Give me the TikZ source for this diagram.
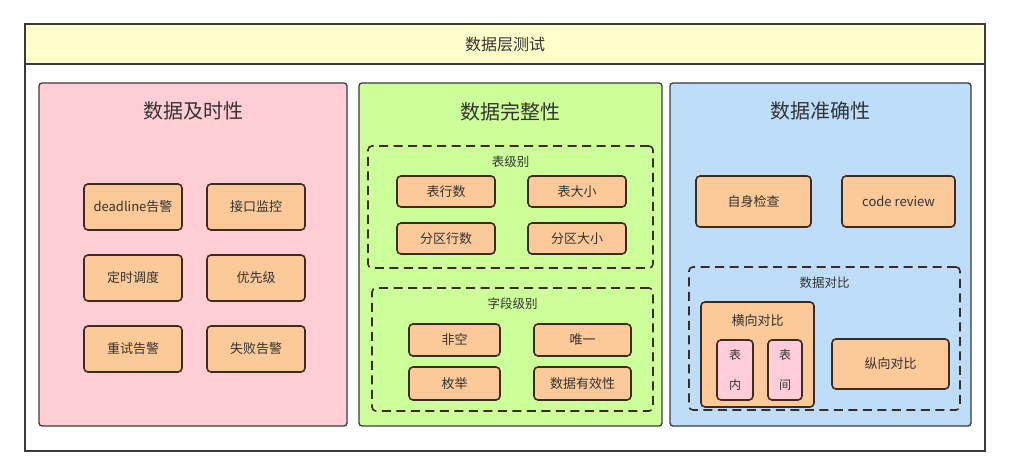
\documentclass[tikz,border=0pt]{standalone}
\usepackage{fontspec}
\setmainfont{Noto Sans CJK SC}
\usepackage{xcolor}
\usetikzlibrary{positioning}

\definecolor{bandyellow}{HTML}{FFFFCC}
\definecolor{panelpink}{HTML}{FFCDD4}
\definecolor{panelgreen}{HTML}{CCFF99}
\definecolor{panelblue}{HTML}{BEDDF9}
\definecolor{itemfill}{HTML}{FCCA98}
\definecolor{cellpink}{HTML}{FFCCD9}
\definecolor{itemline}{HTML}{3B2A26}
\definecolor{framegray}{HTML}{3A3A3A}
\definecolor{textgray}{HTML}{333333}

\begin{document}
\begin{tikzpicture}[x=1pt,y=-1pt,
            frame/.style={draw=framegray,line width=1.4pt,inner sep=0pt},
            panel/.style={draw=framegray,line width=1.3pt,rounded corners=3pt,inner sep=0pt},
            paneltitle/.style={label={[anchor=center,yshift=-29pt,font=\fontsize{20}{24}\selectfont,text=textgray]north:#1}},
            item/.style={draw=itemline,fill=itemfill,line width=1.6pt,rounded corners=4pt,
                    inner sep=0pt,outer sep=0pt,font=\fontsize{13}{15}\selectfont,text=textgray},
            group/.style={draw=itemline,dash pattern=on 9pt off 5.5pt,line width=1.6pt,rounded corners=4pt,inner sep=0pt},
            grouptitle/.style={label={[anchor=center,yshift=-17pt,font=\fontsize{12.5}{15}\selectfont,text=textgray]north:#1}},
            cell/.style={item,fill=cellpink,font=\fontsize{12}{30}\selectfont,align=center}]

        \useasboundingbox (0,0) rectangle (1010,476);

        \node[frame,minimum width=960pt,minimum height=427pt] (F) at (505,237.5) {};
        \node[frame,fill=bandyellow,minimum width=960pt,minimum height=40pt,
              font=\fontsize{16}{19}\selectfont,text=textgray] (T) at (505,44) {数据层测试};

        \node[panel,fill=panelpink,minimum width=308pt,minimum height=343pt,paneltitle=数据及时性] (P1) at (193,254.5) {};
        \node[panel,fill=panelgreen,minimum width=303pt,minimum height=343pt,paneltitle=数据完整性] (P2) at (510.5,254.5) {};
        \node[panel,fill=panelblue,minimum width=301pt,minimum height=343pt,paneltitle=数据准确性] (P3) at (820.5,254.5) {};

        \node[item,minimum width=98pt,minimum height=46pt] (A1) at (133,207) {deadline告警};
        \node[item,minimum width=98pt,minimum height=46pt,right=25pt of A1] (A2) {接口监控};
        \node[item,minimum width=98pt,minimum height=46pt,below=25pt of A1] (A3) {定时调度};
        \node[item,minimum width=98pt,minimum height=46pt,right=25pt of A3] (A4) {优先级};
        \node[item,minimum width=98pt,minimum height=46pt,below=25pt of A3] (A5) {重试告警};
        \node[item,minimum width=98pt,minimum height=46pt,right=25pt of A5] (A6) {失败告警};

        \node[group,minimum width=285pt,minimum height=122pt,grouptitle=表级别] (G1) at (510.5,207) {};
        \node[item,minimum width=98pt,minimum height=31pt] (B1) at (446,191.5) {表行数};
        \node[item,minimum width=98pt,minimum height=31pt,right=33pt of B1] (B2) {表大小};
        \node[item,minimum width=98pt,minimum height=31pt,below=16pt of B1] (B3) {分区行数};
        \node[item,minimum width=98pt,minimum height=31pt,right=33pt of B3] (B4) {分区大小};

        \node[group,minimum width=281pt,minimum height=123pt,grouptitle=字段级别] (G2) at (512.5,349.5) {};
        \node[item,minimum width=91pt,minimum height=32pt] (C1) at (454.5,340) {非空};
        \node[item,minimum width=97pt,minimum height=32pt,right=34pt of C1] (C2) {唯一};
        \node[item,minimum width=91pt,minimum height=33pt,below=11pt of C1] (C3) {枚举};
        \node[item,minimum width=97pt,minimum height=33pt,right=34pt of C3] (C4) {数据有效性};

        \node[item,minimum width=115pt,minimum height=51pt] (D1) at (753.5,201.5) {自身检查};
        \node[item,minimum width=113pt,minimum height=51pt,right=31pt of D1] (D2) {code review};

        \node[group,minimum width=271pt,minimum height=143pt,grouptitle=数据对比] (G3) at (824.5,338.5) {};
        \node[item,minimum width=113pt,minimum height=105pt,
              label={[anchor=center,yshift=-19pt,font=\fontsize{13}{15}\selectfont,text=textgray]north:横向对比}] (E1) at (757.5,354.5) {};
        \node[cell,minimum width=36pt,minimum height=60pt] (E2) at (735,370) {表\\内};
        \node[cell,minimum width=34pt,minimum height=60pt] (E3) at (785,370) {表\\间};
        \node[item,minimum width=117pt,minimum height=50pt] (E4) at (890.5,364) {纵向对比};
    \end{tikzpicture}
\end{document}
